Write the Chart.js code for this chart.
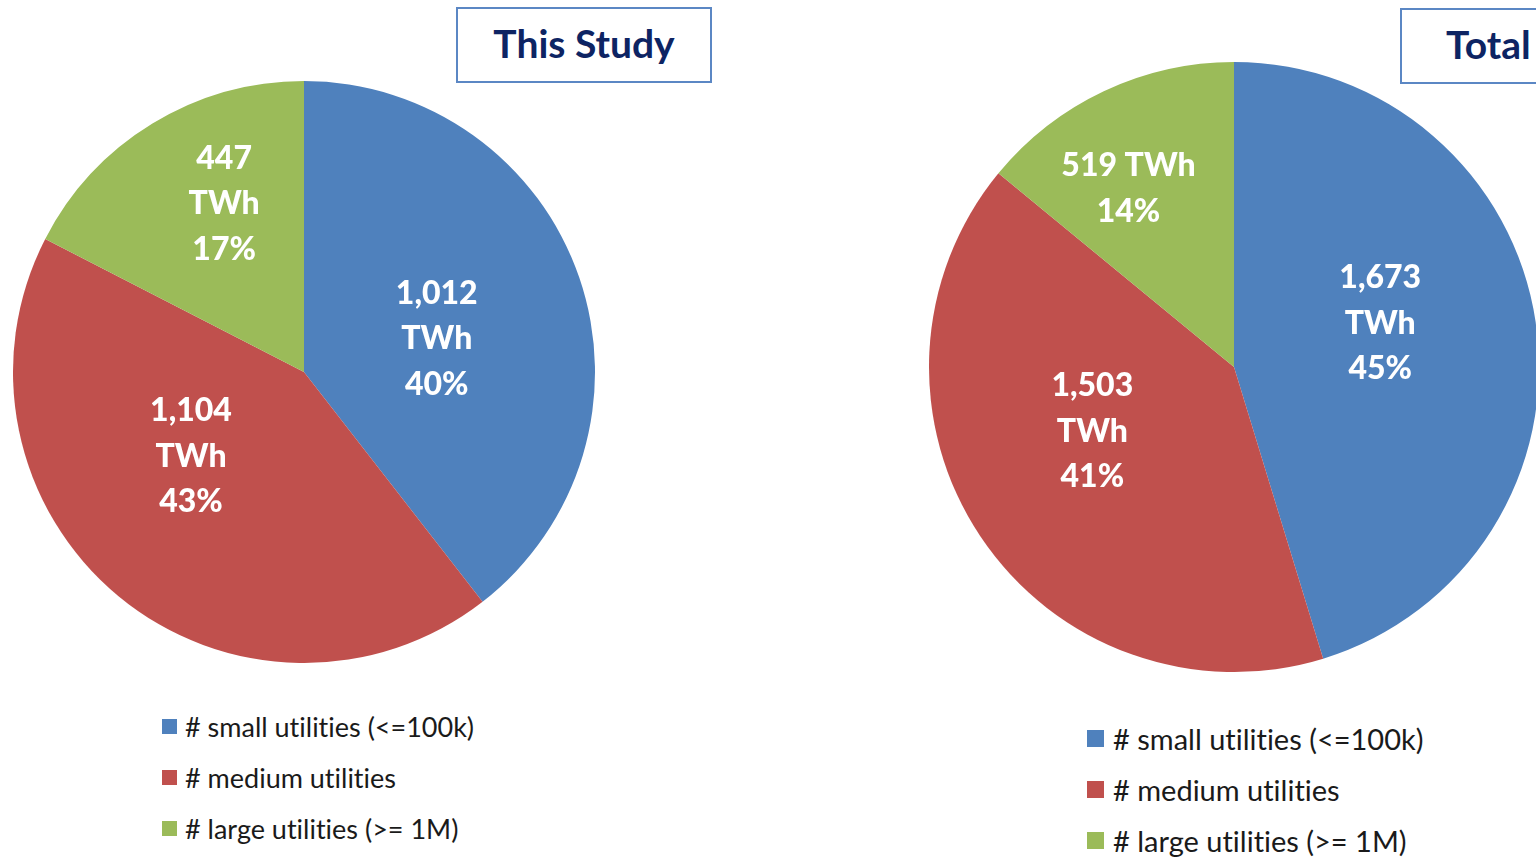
<!DOCTYPE html>
<html>
<head>
<meta charset="utf-8">
<script src="https://cdn.jsdelivr.net/npm/chart.js@4/dist/chart.umd.min.js"></script>
<style>
  html, body { margin: 0; padding: 0; background: #fff; width: 1536px; height: 857px; overflow: hidden; position: relative; }
  .pie { position: absolute; }
  .title-box { position: absolute; border: 2px solid #5B87C4; box-sizing: border-box; background: #fff;
    font-family: Lato, "Open Sans", sans-serif; font-weight: bold; color: #0D2463; font-size: 39px;
    display: flex; align-items: center; padding-bottom: 5px; }
  .legend { position: absolute; font-family: Lato, "Open Sans", sans-serif; color: #1a1a1a;
    font-variant-ligatures: none; }
  .legend .row { position: absolute; left: 0; white-space: nowrap; display: flex; align-items: center; }
  .legend .sw { display: inline-block; }
</style>
</head>
<body>
<div class="title-box" style="left:456px; top:7px; width:256px; height:76px; justify-content:center;">This Study</div>
<div class="title-box" style="left:1400px; top:8px; width:160px; height:76px; padding-left:44px;">Total</div>

<div class="pie" style="left:13px; top:81px;"><canvas id="pieStudy" width="582" height="582"></canvas></div>
<div class="pie" style="left:929px; top:62px;"><canvas id="pieTotal" width="610" height="610"></canvas></div>

<div class="legend" id="legendStudy" style="left:162px; top:0px;"></div>
<div class="legend" id="legendTotal" style="left:1087px; top:0px;"></div>

<script>
// Utility size classes
const categories = ['# small utilities (<=100k)', '# medium utilities', '# large utilities (>= 1M)'];
const sliceColors = ['#4F81BD', '#C0504D', '#9BBB59'];

// Electricity sales, TWh
const studyTWh = [1012, 1104, 447];
const totalTWh = [1673, 1503, 519];

// Stated shares on the slice labels
const studyShare = ['40%', '43%', '17%'];
const totalShare = ['45%', '41%', '14%'];

// Label text lines per slice
const studyLabels = [['1,012', 'TWh', studyShare[0]], ['1,104', 'TWh', studyShare[1]], ['447', 'TWh', studyShare[2]]];
const totalLabels = [['1,673', 'TWh', totalShare[0]], ['1,503', 'TWh', totalShare[1]], ['519 TWh', totalShare[2]]];

// Draws multi-line white labels inside each slice
const sliceLabelPlugin = {
  id: 'sliceLabels',
  afterDatasetsDraw(chart, args, opts) {
    const ctx = chart.ctx;
    const meta = chart.getDatasetMeta(0);
    ctx.save();
    ctx.fillStyle = '#ffffff';
    ctx.font = '900 ' + opts.fontSize + 'px Lato, "Open Sans", sans-serif';
    ctx.textAlign = 'center';
    ctx.textBaseline = 'middle';
    meta.data.forEach((arc, i) => {
      const p = arc.getProps(['x', 'y', 'startAngle', 'endAngle', 'outerRadius'], true);
      const mid = (p.startAngle + p.endAngle) / 2 + opts.shift[i] * Math.PI / 180;
      const r = p.outerRadius * opts.radius[i];
      const cx = p.x + Math.cos(mid) * r;
      const cy = p.y + Math.sin(mid) * r;
      const lines = opts.lines[i];
      const top = cy - (lines.length - 1) * opts.lineHeight / 2;
      lines.forEach((t, k) => ctx.fillText(t, cx, top + k * opts.lineHeight));
    });
    ctx.restore();
  }
};

function makePie(id, values, lines, shift, radius) {
  return new Chart(document.getElementById(id), {
    type: 'pie',
    data: {
      labels: categories,
      datasets: [{ data: values, backgroundColor: sliceColors, borderWidth: 0, hoverOffset: 0 }]
    },
    options: {
      responsive: false,
      animation: false,
      layout: { padding: 0 },
      plugins: {
        legend: { display: false },
        tooltip: { enabled: false },
        sliceLabels: { lines: lines, shift: shift, radius: radius, fontSize: 32, lineHeight: 45.5 }
      }
    },
    plugins: [sliceLabelPlugin]
  });
}

makePie('pieStudy', studyTWh, studyLabels, [5, 13.5, 6], [0.47, 0.485, 0.64]);
makePie('pieTotal', totalTWh, totalLabels, [-8, 9.4, -5.3], [0.5, 0.51, 0.68]);

function makeLegend(id, rowsY, swatch, fontSize, gap) {
  const el = document.getElementById(id);
  categories.forEach((name, i) => {
    const row = document.createElement('div');
    row.className = 'row';
    row.style.top = (rowsY[i] - fontSize - 1) + 'px';
    row.style.height = (fontSize * 2) + 'px';
    row.style.fontSize = fontSize + 'px';
    const sw = document.createElement('span');
    sw.className = 'sw';
    sw.style.width = swatch + 'px';
    sw.style.height = swatch + 'px';
    sw.style.background = sliceColors[i];
    sw.style.marginRight = gap + 'px';
    row.appendChild(sw);
    row.appendChild(document.createTextNode(name));
    el.appendChild(row);
  });
}
makeLegend('legendStudy', [727, 778, 829], 15, 27, 8);
makeLegend('legendTotal', [739, 790, 841], 17, 29, 9);
</script>
</body>
</html>
